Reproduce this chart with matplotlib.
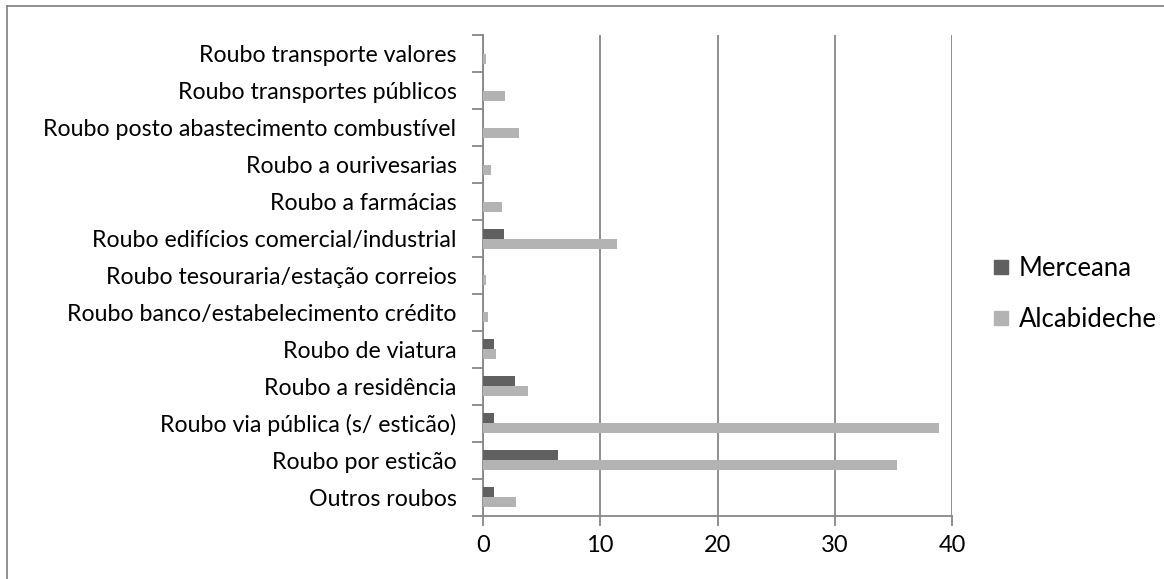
import matplotlib
matplotlib.use("Agg")
import numpy as np
from matplotlib import pyplot as plt
from matplotlib.lines import Line2D

categories = [
    "Outros roubos",
    "Roubo por esticão",
    "Roubo via pública (s/ esticão)",
    "Roubo a residência",
    "Roubo de viatura",
    "Roubo banco/estabelecimento crédito",
    "Roubo tesouraria/estação correios",
    "Roubo edifícios comercial/industrial",
    "Roubo a farmácias",
    "Roubo a ourivesarias",
    "Roubo posto abastecimento combustível",
    "Roubo transportes públicos",
    "Roubo transporte valores",
]
merceana = [0.9, 6.4, 0.9, 2.7, 0.9, 0, 0, 1.8, 0, 0, 0, 0, 0]
alcabideche = [2.85, 35.3, 38.9, 3.8, 1.15, 0.45, 0.25, 11.4, 1.65, 0.7, 3.05, 1.9, 0.25]

plt.rcParams['font.family'] = ['Lato', 'DejaVu Sans']
fs = 16.7

fig = plt.figure(figsize=(11.64, 5.79), dpi=100)
ax = fig.add_axes([483 / 1164, 1 - 515.7 / 579, (952 - 483) / 1164, (515.7 - 35.3) / 579])

y = np.arange(len(categories))
h = 0.27
ax.barh(y + h / 2, merceana, height=h, color='#606060', label='Merceana', zorder=3)
ax.barh(y - h / 2, alcabideche, height=h, color='#b3b3b3', label='Alcabideche', zorder=3)

ax.set_xlim(0, 40)
ax.set_ylim(-0.5, len(categories) - 0.5)
ax.set_xticks([0, 10, 20, 30, 40])
ax.set_yticks(y)
ax.set_yticklabels(categories)
ax.set_yticks(np.arange(len(categories) + 1) - 0.5, minor=True)
ax.tick_params(axis='y', which='major', length=0, pad=19, labelsize=fs)
ax.tick_params(axis='y', which='minor', length=8, color='#878787', width=1.3)
ax.tick_params(axis='x', length=7, color='#878787', width=1.3, labelsize=17, pad=7)
ax.grid(axis='x', color='#878787', linewidth=1.3, zorder=0)
for s in ['top', 'right']:
    ax.spines[s].set_visible(False)
for s in ['left', 'bottom']:
    ax.spines[s].set_color('#878787')
    ax.spines[s].set_linewidth(1.3)

handles = [Line2D([], [], marker='s', linestyle='', markersize=10, color='#606060'),
           Line2D([], [], marker='s', linestyle='', markersize=10, color='#b3b3b3')]
fig.legend(handles, ['Merceana', 'Alcabideche'], loc='center left',
           bbox_to_anchor=(962 / 1164, 1 - 294 / 579), frameon=False, fontsize=18.5,
           handletextpad=0.1, labelspacing=1.05, handlelength=1.2)

# chart frame (top and left visible)
fig.add_artist(Line2D([7 / 1164, 7 / 1164], [0, 1 - 6 / 579], transform=fig.transFigure, color='#878787', linewidth=1.3))
fig.add_artist(Line2D([7 / 1164, 1], [1 - 6 / 579, 1 - 6 / 579], transform=fig.transFigure, color='#878787', linewidth=1.3))

fig.savefig('out.png', dpi=100)
